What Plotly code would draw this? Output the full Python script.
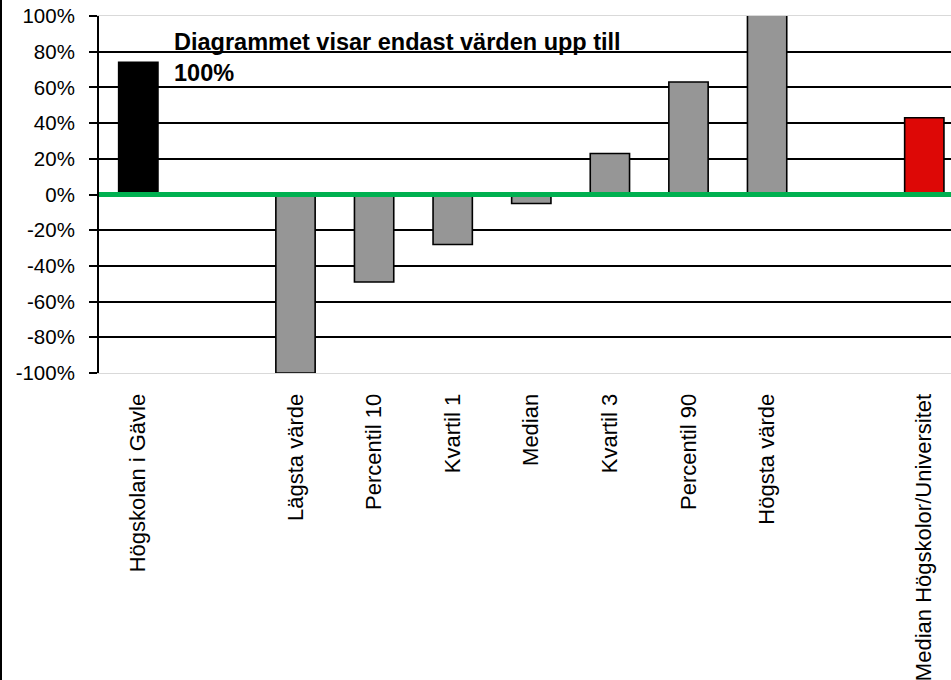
import plotly.graph_objects as go

# ---- data ----
categories = ["Högskolan i Gävle", " ", "Lägsta värde", "Percentil 10", "Kvartil 1",
              "Median", "Kvartil 3", "Percentil 90", "Högsta värde", "  ",
              "Median Högskolor/Universitet"]
values = [0.74, None, -1.0, -0.49, -0.28, -0.05, 0.23, 0.63, 1.05, None, 0.43]
bar_colors = ["#000000", "#969696", "#969696", "#969696", "#969696", "#969696",
              "#969696", "#969696", "#969696", "#969696", "#DD0806"]
y_tickvals = [-1.0, -0.8, -0.6, -0.4, -0.2, 0.0, 0.2, 0.4, 0.6, 0.8, 1.0]
y_ticktext = ["-100%", "-80%", "-60%", "-40%", "-20%", "0%", "20%", "40%", "60%", "80%", "100%"]
note_text = "Diagrammet visar endast värden upp till<br>100%"

W, H = 951, 680
ML, MR, MT, MB = 99, 0, 16, 307
plot_w = W - ML - MR
plot_h = H - MT - MB
band_px = 78.6

fig = go.Figure()
fig.add_trace(go.Bar(
    x=categories, y=values,
    marker=dict(color=bar_colors, line=dict(color="#000000", width=1.6)),
    showlegend=False, hoverinfo="skip",
))

font_family = "Liberation Sans, Arial, sans-serif"

fig.update_layout(
    width=W, height=H,
    margin=dict(l=ML, r=MR, t=MT, b=MB, pad=0),
    paper_bgcolor="white", plot_bgcolor="white",
    bargap=0.5,
    font=dict(family=font_family, color="black", size=20),
    xaxis=dict(
        type="category", categoryorder="array", categoryarray=categories,
        range=[-0.5, -0.5 + plot_w / band_px],
        tickangle=-90, tickfont=dict(size=22),
        ticks="", showgrid=False, zeroline=False,
        showline=True, linecolor="#d9d9d9", linewidth=1, mirror=True,
        ticklabelstandoff=11,
    ),
    yaxis=dict(
        range=[-1, 1], tickvals=y_tickvals, ticktext=y_ticktext,
        tickfont=dict(size=20.5),
        ticks="outside", ticklen=8, tickwidth=2, tickcolor="black",
        showline=True, linecolor="black", linewidth=2,
        showgrid=True, gridcolor="black", gridwidth=2,
        zeroline=False,
        ticklabelstandoff=10,
    ),
)

# zero reference line (green), drawn above bars
fig.add_shape(type="line", xref="paper", yref="y", x0=0, x1=1, y0=0, y1=0,
              line=dict(color="#00B050", width=5), layer="above")

# left frame line of chart area
fig.add_shape(type="line", xref="paper", yref="paper",
              x0=(1 - ML) / plot_w, x1=(1 - ML) / plot_w,
              y0=-MB / plot_h, y1=1 + MT / plot_h,
              line=dict(color="black", width=2), layer="above")

fig.add_annotation(
    text=note_text, xref="paper", yref="paper",
    x=(172 - ML) / plot_w, y=1 - (27 - MT) / plot_h,
    xanchor="left", yanchor="top", align="left", showarrow=False,
    font=dict(size=23.5, family=font_family, color="black", weight="bold"),
)

fig.write_html("out.html",
               config={"displayModeBar": False},
               post_script="document.body.style.margin='0px';document.body.style.overflow='hidden';")
